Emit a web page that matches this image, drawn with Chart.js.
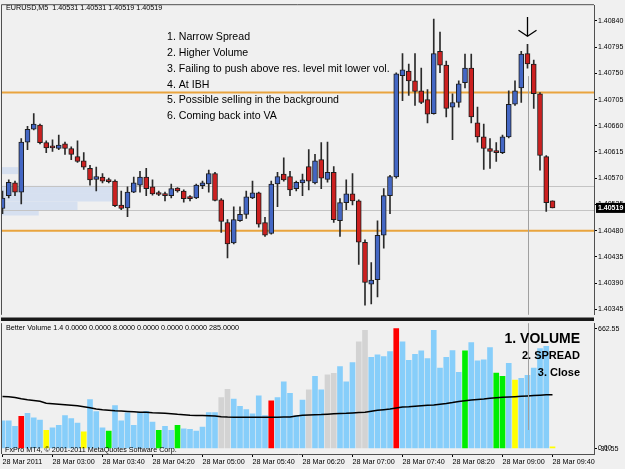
<!DOCTYPE html>
<html>
<head>
<meta charset="utf-8">
<script src="https://cdn.jsdelivr.net/npm/chart.js@4.4.0/dist/chart.umd.min.js"></script>
<style>
html, body { margin: 0; padding: 0; background: #f0f0f0; }
#wrap { position: relative; width: 625px; height: 469px; overflow: hidden; }
#priceChart { position: absolute; left: 0; top: 0; }
#volChart { position: absolute; left: 0; top: 318px; }
</style>
</head>
<body>
<div id="wrap">
  <canvas id="priceChart" width="625" height="320"></canvas>
  <canvas id="volChart" width="625" height="151"></canvas>
</div>
<script>
// EURUSD M5, 28 Mar 2011 02:20 - 09:40
var opens = [1.40518,1.40540,1.40562,1.40546,1.40632,1.40654,1.40661,1.40631,1.40624,1.40621,
  1.40629,1.40621,1.40607,1.40600,1.40587,1.40568,1.40572,1.40565,1.40565,1.40524,
  1.40519,1.40546,1.40558,1.40572,1.40555,1.40543,1.40541,1.40540,1.40553,1.40548,
  1.40536,1.40536,1.40557,1.40560,1.40578,1.40533,1.40494,1.40459,1.40497,1.40508,
  1.40536,1.40545,1.40494,1.40475,1.40560,1.40577,1.40573,1.40552,1.40562,1.40590,
  1.40562,1.40602,1.40568,1.40580,1.40497,1.40528,1.40543,1.40531,1.40460,1.40388,
  1.40396,1.40472,1.40540,1.40572,1.40746,1.40754,1.40737,1.40720,1.40705,1.40681,
  1.40788,1.40764,1.40692,1.40700,1.40734,1.40759,1.40665,1.40641,1.40621,1.40617,
  1.40614,1.40641,1.40697,1.40725,1.40784,1.40766,1.40715,1.40607,1.40531];
var highs = [1.40548,1.40567,1.40565,1.40638,1.40659,1.40681,1.40663,1.40634,1.40636,1.40644,
  1.40632,1.40624,1.40634,1.40614,1.40592,1.40589,1.40578,1.40570,1.40567,1.40548,
  1.40555,1.40572,1.40582,1.40587,1.40567,1.40548,1.40546,1.40560,1.40554,1.40550,
  1.40540,1.40560,1.40565,1.40584,1.40580,1.40535,1.40499,1.40521,1.40521,1.40548,
  1.40565,1.40546,1.40503,1.40565,1.40580,1.40605,1.40582,1.40565,1.40577,1.40619,
  1.40611,1.40631,1.40632,1.40590,1.40535,1.40567,1.40578,1.40533,1.40464,1.40425,
  1.40497,1.40552,1.40575,1.40751,1.40784,1.40766,1.40784,1.40759,1.40722,1.40843,
  1.40821,1.40771,1.40715,1.40737,1.40783,1.40783,1.40692,1.40663,1.40638,1.40631,
  1.40644,1.40720,1.40737,1.40788,1.40800,1.40773,1.40717,1.40609,1.40531];
var lows = [1.40509,1.40536,1.40540,1.40526,1.40619,1.40653,1.40629,1.40614,1.40616,1.40619,
  1.40611,1.40602,1.40597,1.40585,1.40558,1.40548,1.40562,1.40562,1.40521,1.40516,
  1.40504,1.40545,1.40546,1.40540,1.40541,1.40540,1.40531,1.40536,1.40546,1.40529,
  1.40531,1.40535,1.40552,1.40546,1.40531,1.40477,1.40433,1.40457,1.40496,1.40501,
  1.40535,1.40486,1.40470,1.40474,1.40521,1.40565,1.40540,1.40548,1.40540,1.40550,
  1.40560,1.40552,1.40563,1.40494,1.40470,1.40516,1.40524,1.40422,1.40352,1.40354,
  1.40366,1.40450,1.40509,1.40570,1.40703,1.40712,1.40695,1.40698,1.40665,1.40680,
  1.40751,1.40675,1.40636,1.40692,1.40725,1.40665,1.40632,1.40585,1.40587,1.40599,
  1.40612,1.40639,1.40695,1.40700,1.40759,1.40690,1.40584,1.40513,1.40519];
var closes = [1.40536,1.40563,1.40546,1.40632,1.40654,1.40663,1.40631,1.40622,1.40622,1.40627,
  1.40621,1.40611,1.40599,1.40589,1.40567,1.40573,1.40565,1.40564,1.40523,1.40518,
  1.40546,1.40562,1.40572,1.40552,1.40543,1.40542,1.40540,1.40552,1.40548,1.40535,
  1.40535,1.40558,1.40562,1.40578,1.40532,1.40496,1.40457,1.40499,1.40508,1.40538,
  1.40545,1.40491,1.40472,1.40560,1.40573,1.40567,1.40550,1.40563,1.40567,1.40565,
  1.40600,1.40570,1.40580,1.40499,1.40528,1.40543,1.40531,1.40460,1.40391,1.40395,
  1.40472,1.40540,1.40573,1.40749,1.40756,1.40737,1.40719,1.40700,1.40680,1.40784,
  1.40764,1.40690,1.40700,1.40732,1.40759,1.40675,1.40641,1.40621,1.40616,1.40614,
  1.40641,1.40697,1.40720,1.40783,1.40766,1.40715,1.40609,1.40528,1.40519];

// Better Volume indicator
var volumes = [152,152,122,177,194,169,156,100,113,127,
  181,164,140,91,270,203,113,96,236,152,
  196,127,199,205,145,100,122,100,127,108,
  105,96,118,198,198,281,326,272,232,214,
  191,290,181,263,281,368,304,181,267,323,
  399,323,407,415,453,368,475,589,653,503,
  518,508,535,662.55,589,487,520,539,496,653,
  444,503,541,420,540,585,484,490,558,417,
  399,470,378,388,404,444,552,564,8];
// n normal, c climax, l low volume, h churn, g high churn
var volType = ('nnncnnnlnn' + 'nnnlnnnhnn' + 'nnnnnhnnhn' + 'nnnnnggnnn' + 'nnncnnnnng' +
  'nnggnnnggn' + 'nnncnnnnnn' + 'nnnnhnnnnh' + 'hnlnnnnnl').split('');
var volAvg = [287,286,281,274,269,265,260,250,247,244,
  241,238,235,230,224,217,213,211,208,206,
  204,202,200,199,197,196,194,191,188,186,
  183,181,181,180,179,175,173,172,172,172,
  172,172,172,172,172,173,173,179,183,185,
  186,187,189,191,193,194,196,198,200,205,
  210,214,217,223,228,230,233,236,238,240,
  244,248,253,259,263,267,270,273,277,280,
  282,284,286,288,290,292,294,296,297];

var priceTicks = [1.40840,1.40795,1.40750,1.40705,1.40660,1.40615,1.40570,1.40525,1.40480,1.40435,1.40390,1.40345];
var volTicks = [662.55, 0];
var timeTicks = [0,8,16,24,32,40,48,56,64,72,80,88];
var timeLabels = ['28 Mar 2011','28 Mar 03:00','28 Mar 03:40','28 Mar 04:20','28 Mar 05:00','28 Mar 05:40',
  '28 Mar 06:20','28 Mar 07:00','28 Mar 07:40','28 Mar 08:20','28 Mar 09:00','28 Mar 09:40'];

var orangeLevels = [1.40717, 1.40480];
var grayLevels = [1.40557, 1.40515];
var profileHi = [1.40589, 1.40557, 1.40543, 1.40530, 1.40514];
var profileLo = [1.40577, 1.40543, 1.40530, 1.40514, 1.40506];
var profileLen = [2.5, 17.5, 17.5, 12, 5.8];
var markBar = 84;
var lastPrice = 1.40519;

var notes = ['1. Narrow Spread', '2. Higher Volume', '3. Failing to push above res. level mit lower vol.',
  '4. At IBH', '5. Possible selling in the background', '6. Coming back into VA'];
var volNotes = ['1. VOLUME', '2. SPREAD', '3. Close'];

var FONT = '"Liberation Sans", Arial, sans-serif';
Chart.defaults.font.family = FONT;
Chart.defaults.animation = false;

var UP = '#4467c4', DOWN = '#cc2020';
var volColors = {n: '#87cefa', c: '#ff0000', l: '#ffff00', h: '#00ee00', g: '#d3d3d3'};

var xMin = -0.08, xMax = 94.64;

var bodies = opens.map(function (o, i) { return {x: i, y: [o, closes[i]]}; });
var wicks = opens.map(function (o, i) { return {x: i, y: [lows[i], highs[i]]}; });
var bodyColors = opens.map(function (o, i) { return closes[i] >= o ? UP : DOWN; });

// main window extras
var mainDecor = {
    id: 'mainDecor',
    beforeDatasetsDraw: function (chart) {
        var ctx = chart.ctx, a = chart.chartArea, x = chart.scales.x, y = chart.scales.y;
        ctx.save();
        ctx.fillStyle = '#d6e0f0';
        profileHi.forEach(function (hi, k) {
            var y1 = y.getPixelForValue(hi), y2 = y.getPixelForValue(profileLo[k]);
            ctx.fillRect(a.left, y1, x.getPixelForValue(profileLen[k]) - a.left, y2 - y1);
        });
        ctx.strokeStyle = '#c4c4c4';
        ctx.lineWidth = 1;
        grayLevels.forEach(function (p) {
            var py = Math.round(y.getPixelForValue(p)) + 0.5;
            ctx.beginPath(); ctx.moveTo(a.left, py); ctx.lineTo(a.right, py); ctx.stroke();
        });
        ctx.strokeStyle = '#e9a43e';
        ctx.lineWidth = 2;
        orangeLevels.forEach(function (p) {
            var py = y.getPixelForValue(p);
            ctx.beginPath(); ctx.moveTo(a.left, py); ctx.lineTo(a.right, py); ctx.stroke();
        });
        // vertical marker
        var mx = Math.round(x.getPixelForValue(markBar)) + 0.5;
        ctx.strokeStyle = '#a0a0a0';
        ctx.lineWidth = 1;
        ctx.beginPath(); ctx.moveTo(mx, y.getPixelForValue(lows[markBar]) + 8); ctx.lineTo(mx, a.bottom); ctx.stroke();
        ctx.restore();
    },
    afterDraw: function (chart) {
        var ctx = chart.ctx, a = chart.chartArea, x = chart.scales.x, y = chart.scales.y;
        ctx.save();
        // frame
        ctx.strokeStyle = '#505050';
        ctx.lineWidth = 1;
        ctx.beginPath();
        ctx.moveTo(a.left - 0.5, a.bottom); ctx.lineTo(a.left - 0.5, a.top - 0.5); ctx.lineTo(a.right, a.top - 0.5);
        ctx.stroke();
        ctx.fillStyle = '#1a1a1a';
        ctx.fillRect(a.left - 1, 317.5, a.right - a.left + 1, 2.5);

        ctx.fillStyle = '#000';
        ctx.textBaseline = 'middle';
        ctx.font = '7.2px ' + FONT;
        ctx.fillText('EURUSD,M5  1.40531 1.40531 1.40519 1.40519', 6, 8);

        ctx.font = '10.6px ' + FONT;
        notes.forEach(function (t, k) { ctx.fillText(t, 167, 37.5 + 15.7 * k); });

        // arrow
        var mx = x.getPixelForValue(markBar);
        var tip = y.getPixelForValue(highs[markBar]) - 8;
        ctx.strokeStyle = '#000';
        ctx.lineWidth = 1.3;
        ctx.beginPath();
        ctx.moveTo(mx, 17); ctx.lineTo(mx, tip);
        ctx.moveTo(mx - 9, tip - 6); ctx.lineTo(mx, tip); ctx.lineTo(mx + 9, tip - 6);
        ctx.stroke();

        // last price box
        var py = y.getPixelForValue(lastPrice);
        ctx.fillStyle = '#000';
        ctx.fillRect(a.right + 2, py - 5, 31, 10);
        ctx.fillStyle = '#fff';
        ctx.font = 'bold 7px ' + FONT;
        ctx.fillText(lastPrice.toFixed(5), a.right + 4, py + 0.5);
        ctx.restore();
    }
};

new Chart(document.getElementById('priceChart').getContext('2d'), {
    type: 'bar',
    data: {
        datasets: [
            {
                data: bodies,
                backgroundColor: bodyColors,
                borderColor: '#1c1c1c',
                borderWidth: 1,
                borderSkipped: false,
                barThickness: 5,
                minBarLength: 2,
                grouped: false,
                order: 0
            },
            {
                data: wicks,
                backgroundColor: '#2a2a2a',
                borderWidth: 0,
                barThickness: 1,
                grouped: false,
                order: 1
            }
        ]
    },
    options: {
        responsive: false,
        layout: {padding: {left: 2, top: 3, right: 0, bottom: 2}},
        plugins: {legend: {display: false}, tooltip: {enabled: false}},
        scales: {
            x: {type: 'linear', min: xMin, max: xMax, offset: false, grid: {offset: false}, display: false},
            y: {
                position: 'right',
                min: 1.403355,
                max: 1.408670,
                afterFit: function (s) { s.width = 31; },
                afterBuildTicks: function (s) { s.ticks = priceTicks.map(function (v) { return {value: v}; }); },
                ticks: {
                    padding: 1,
                    color: '#000',
                    font: {size: 7},
                    callback: function (v) { return Number(v).toFixed(5); }
                },
                grid: {display: true, drawOnChartArea: false, tickLength: 3, color: '#000'},
                border: {display: true, color: '#505050'}
            }
        }
    },
    plugins: [mainDecor]
});

// volume window extras
var volDecor = {
    id: 'volDecor',
    afterDatasetsDraw: function (chart) {
        var ctx = chart.ctx, a = chart.chartArea, x = chart.scales.x, y = chart.scales.y;
        ctx.save();
        var mx = Math.round(x.getPixelForValue(markBar)) + 0.5;
        ctx.strokeStyle = '#a0a0a0';
        ctx.lineWidth = 1;
        ctx.beginPath(); ctx.moveTo(mx, a.top); ctx.lineTo(mx, 112); ctx.stroke();

        ctx.fillStyle = '#1a1a1a';
        ctx.fillRect(a.left - 1, 1.5, a.right - a.left + 1, 1.5);
        ctx.strokeStyle = '#505050';
        ctx.beginPath(); ctx.moveTo(a.left - 0.5, a.top); ctx.lineTo(a.left - 0.5, a.bottom); ctx.stroke();

        ctx.fillStyle = '#000';
        ctx.textBaseline = 'middle';
        ctx.font = '7.2px ' + FONT;
        ctx.fillText('Better Volume 1.4 0.0000 0.0000 8.0000 0.0000 0.0000 0.0000 285.0000', 6, 10.5);
        ctx.fillText('FxPro MT4, \u00a9 2001-2011 MetaQuotes Software Corp.', 5, 132);
        ctx.fillText('-31.55', a.right + 4, y.getPixelForValue(0) + 1);

        ctx.textAlign = 'right';
        ctx.font = 'bold 14px ' + FONT;
        ctx.fillText(volNotes[0], 580, 21);
        ctx.font = 'bold 11px ' + FONT;
        ctx.fillText(volNotes[1], 580, 37.5);
        ctx.fillText(volNotes[2], 580, 54.5);
        ctx.restore();
    }
};

new Chart(document.getElementById('volChart').getContext('2d'), {
    type: 'bar',
    data: {
        datasets: [
            {
                type: 'line',
                data: volAvg.map(function (v, i) { return {x: i, y: v}; }),
                borderColor: '#000',
                borderWidth: 1.5,
                pointRadius: 0,
                tension: 0,
                order: 0
            },
            {
                data: volumes.map(function (v, i) { return {x: i, y: v}; }),
                backgroundColor: volType.map(function (t) { return volColors[t]; }),
                borderWidth: 0,
                barThickness: 5,
                grouped: false,
                order: 1
            }
        ]
    },
    options: {
        responsive: false,
        layout: {padding: {left: 2, top: 3, right: 0, bottom: 0}},
        plugins: {legend: {display: false}, tooltip: {enabled: false}},
        scales: {
            x: {
                type: 'linear',
                min: xMin,
                max: xMax,
                offset: false,
                afterFit: function (s) { s.height = 15; },
                afterBuildTicks: function (s) { s.ticks = timeTicks.map(function (v) { return {value: v}; }); },
                ticks: {
                    align: 'start',
                    autoSkip: false,
                    maxRotation: 0,
                    minRotation: 0,
                    padding: 1,
                    color: '#000',
                    font: {size: 7.2},
                    callback: function (v, i) { return timeLabels[i]; }
                },
                grid: {display: true, offset: false, drawOnChartArea: false, tickLength: 3, color: '#000'},
                border: {display: true, color: '#505050'}
            },
            y: {
                position: 'right',
                min: -31.55,
                max: 692.5,
                afterFit: function (s) { s.width = 31; },
                afterBuildTicks: function (s) { s.ticks = volTicks.map(function (v) { return {value: v}; }); },
                ticks: {
                    padding: 1,
                    color: '#000',
                    font: {size: 7},
                    callback: function (v) { return Number(v).toFixed(2); }
                },
                grid: {display: true, drawOnChartArea: false, tickLength: 3, color: '#000'},
                border: {display: true, color: '#505050'}
            }
        }
    },
    plugins: [volDecor]
});
</script>
</body>
</html>
